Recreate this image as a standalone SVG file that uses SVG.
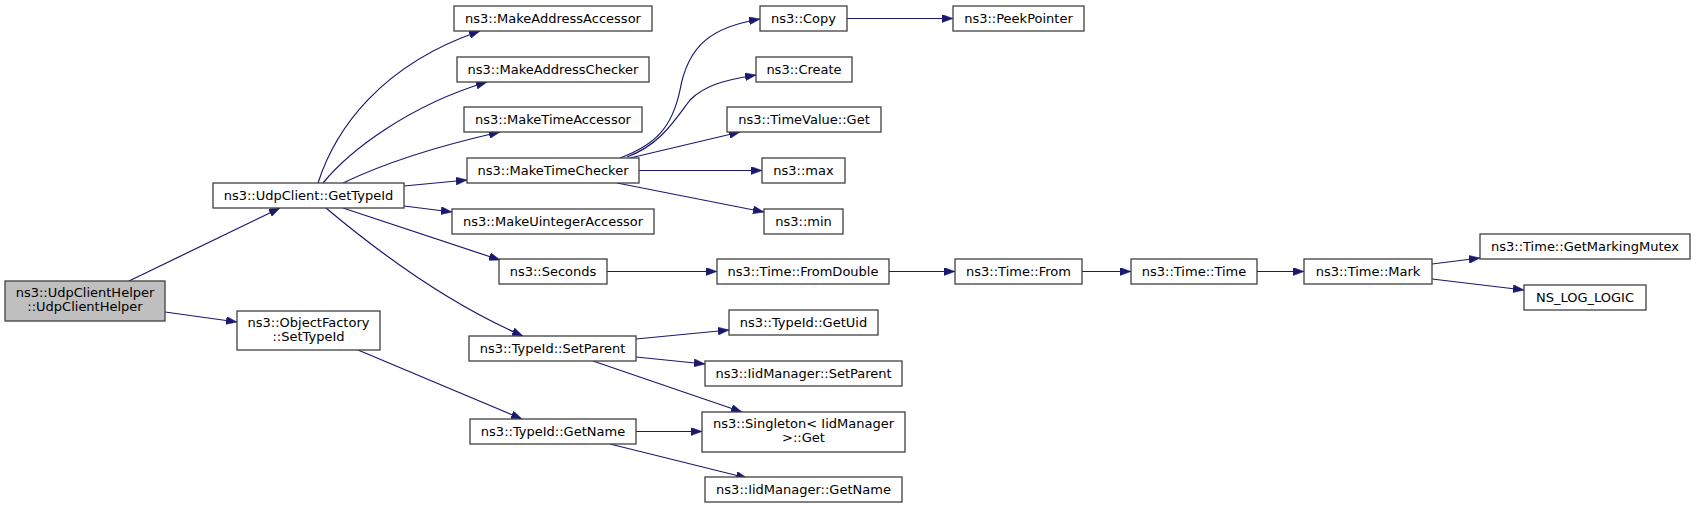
<svg xmlns="http://www.w3.org/2000/svg" width="1696" height="509" viewBox="0 0 1696 509">
<style>
.n rect{fill:#ffffff;stroke:#404040;stroke-width:1.3}
.n.root rect{fill:#bfbfbf}
.n text{font-family:"DejaVu Sans",sans-serif;font-size:13px;fill:#000;text-anchor:middle}
.e path{fill:none;stroke:#191970;stroke-width:1.2;marker-end:url(#ah)}
</style>
<defs>
<marker id="ah" markerUnits="userSpaceOnUse" markerWidth="11" markerHeight="8" refX="11" refY="4" orient="auto">
<path d="M0,0 L11,4 L0,8 z" fill="#191970" stroke="#191970" stroke-width="0.5"/>
</marker>
</defs>
<rect width="1696" height="509" fill="#ffffff"/>
<g id="edges" class="e">
<path d="M129,281 L280,208"/>
<path d="M165,312 L237,322"/>
<path d="M318,183 C335,130 380,65 480,31"/>
<path d="M323,183 C350,150 410,105 487,82"/>
<path d="M343,183 C370,170 420,150 500,132"/>
<path d="M404,186 L467,180"/>
<path d="M404,206 L452,212"/>
<path d="M343,208 L500,260"/>
<path d="M326,208 C370,245 440,300 523,336"/>
<path d="M358,350 L522,419"/>
<path d="M620,158 C655,145 672,128 680,90 C688,45 712,27 760,19"/>
<path d="M627,157 C660,145 675,120 690,100 C705,85 725,80 756,75"/>
<path d="M630,158 L740,132"/>
<path d="M639,170.5 L762,170.5"/>
<path d="M617,183 L764,212"/>
<path d="M847,18.5 L953,18.5"/>
<path d="M607,271.5 L717,271.5"/>
<path d="M889,271.5 L955,271.5"/>
<path d="M1082,271.5 L1131,271.5"/>
<path d="M1257,271.5 L1304,271.5"/>
<path d="M1432,264 L1480,258"/>
<path d="M1432,279 L1524,290"/>
<path d="M636,339 L729,330"/>
<path d="M636,357 L705,364"/>
<path d="M593,361 L742,412"/>
<path d="M636,431.5 L702,431.5"/>
<path d="M610,444 L747,478"/>
</g>
<g id="n_helper" class="n root"><rect x="5" y="281" width="160" height="40"/><text x="85" y="297">ns3::UdpClientHelper</text><text x="85" y="311">::UdpClientHelper</text></g>
<g id="n_gettypeid" class="n"><rect x="213" y="183" width="191" height="25"/><text x="308.5" y="200">ns3::UdpClient::GetTypeId</text></g>
<g id="n_settypeid" class="n"><rect x="237" y="311" width="143" height="39"/><text x="308.5" y="327">ns3::ObjectFactory</text><text x="308.5" y="341">::SetTypeId</text></g>
<g id="n_makeaddracc" class="n"><rect x="454" y="6" width="198" height="25"/><text x="553" y="23">ns3::MakeAddressAccessor</text></g>
<g id="n_makeaddrchk" class="n"><rect x="457" y="57" width="192" height="25"/><text x="553" y="74">ns3::MakeAddressChecker</text></g>
<g id="n_maketimeacc" class="n"><rect x="464" y="107" width="178" height="25"/><text x="553" y="124">ns3::MakeTimeAccessor</text></g>
<g id="n_maketimechk" class="n"><rect x="467" y="158" width="172" height="25"/><text x="553" y="175">ns3::MakeTimeChecker</text></g>
<g id="n_makeuintacc" class="n"><rect x="452" y="209" width="202" height="25"/><text x="553" y="226">ns3::MakeUintegerAccessor</text></g>
<g id="n_seconds" class="n"><rect x="499" y="259" width="108" height="25"/><text x="553" y="276">ns3::Seconds</text></g>
<g id="n_setparent" class="n"><rect x="469" y="336" width="167" height="25"/><text x="552.5" y="353">ns3::TypeId::SetParent</text></g>
<g id="n_getname" class="n"><rect x="470" y="419" width="166" height="25"/><text x="553" y="436">ns3::TypeId::GetName</text></g>
<g id="n_copy" class="n"><rect x="760" y="6" width="87" height="25"/><text x="803.5" y="23">ns3::Copy</text></g>
<g id="n_create" class="n"><rect x="756" y="57" width="96" height="25"/><text x="804" y="74">ns3::Create</text></g>
<g id="n_timevalueget" class="n"><rect x="727" y="107" width="154" height="25"/><text x="804" y="124">ns3::TimeValue::Get</text></g>
<g id="n_max" class="n"><rect x="762" y="158" width="83" height="25"/><text x="803.5" y="175">ns3::max</text></g>
<g id="n_min" class="n"><rect x="764" y="209" width="79" height="25"/><text x="803.5" y="226">ns3::min</text></g>
<g id="n_fromdouble" class="n"><rect x="717" y="259" width="172" height="25"/><text x="803" y="276">ns3::Time::FromDouble</text></g>
<g id="n_getuid" class="n"><rect x="729" y="310" width="149" height="25"/><text x="803.5" y="327">ns3::TypeId::GetUid</text></g>
<g id="n_iidsetparent" class="n"><rect x="705" y="361" width="197" height="25"/><text x="803.5" y="378">ns3::IidManager::SetParent</text></g>
<g id="n_singleton" class="n"><rect x="702" y="412" width="203" height="40"/><text x="803.5" y="428">ns3::Singleton&lt; IidManager</text><text x="803.5" y="442">&gt;::Get</text></g>
<g id="n_iidgetname" class="n"><rect x="705" y="477" width="197" height="25"/><text x="803.5" y="494">ns3::IidManager::GetName</text></g>
<g id="n_peekpointer" class="n"><rect x="953" y="6" width="131" height="25"/><text x="1018.5" y="23">ns3::PeekPointer</text></g>
<g id="n_from" class="n"><rect x="955" y="259" width="127" height="25"/><text x="1018.5" y="276">ns3::Time::From</text></g>
<g id="n_time" class="n"><rect x="1131" y="259" width="126" height="25"/><text x="1194" y="276">ns3::Time::Time</text></g>
<g id="n_mark" class="n"><rect x="1304" y="259" width="128" height="25"/><text x="1368" y="276">ns3::Time::Mark</text></g>
<g id="n_mutex" class="n"><rect x="1480" y="234" width="210" height="25"/><text x="1585" y="251">ns3::Time::GetMarkingMutex</text></g>
<g id="n_nslog" class="n"><rect x="1524" y="285" width="122" height="25"/><text x="1585" y="302">NS_LOG_LOGIC</text></g>
</svg>
